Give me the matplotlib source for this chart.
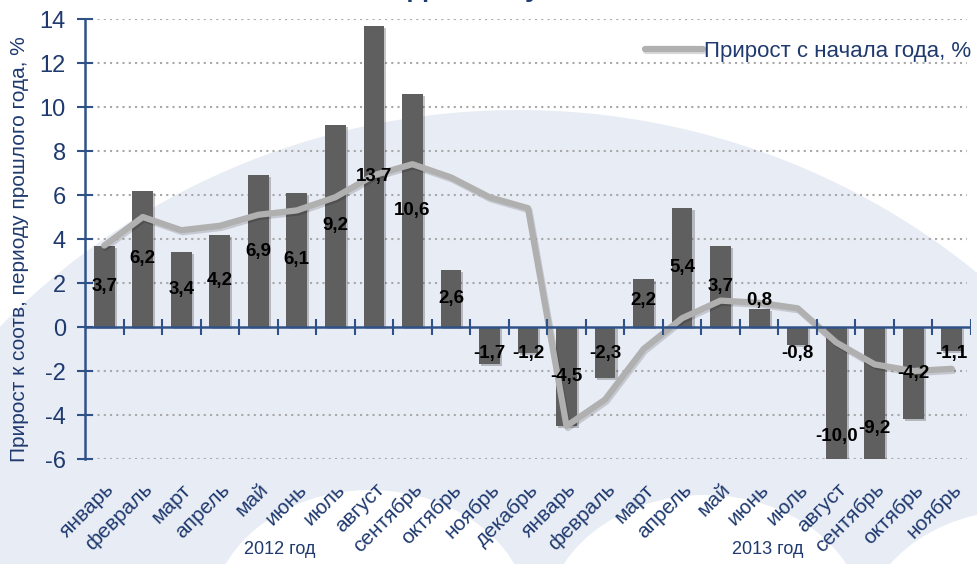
import matplotlib
matplotlib.use('Agg')
import matplotlib.pyplot as plt
from matplotlib import font_manager
from matplotlib.patches import Ellipse
from matplotlib.transforms import ScaledTranslation
import matplotlib.patheffects as pe
import numpy as np

months = ['январь', 'февраль', 'март', 'апрель', 'май', 'июнь', 'июль', 'август',
          'сентябрь', 'октябрь', 'ноябрь', 'декабрь',
          'январь', 'февраль', 'март', 'апрель', 'май', 'июнь', 'июль', 'август',
          'сентябрь', 'октябрь', 'ноябрь']
yoy = [3.7, 6.2, 3.4, 4.2, 6.9, 6.1, 9.2, 13.7, 10.6, 2.6, -1.7, -1.2,
       -4.5, -2.3, 2.2, 5.4, 3.7, 0.8, -0.8, -10.0, -9.2, -4.2, -1.1]
ytd = [3.7, 5.0, 4.4, 4.6, 5.1, 5.3, 5.9, 6.9, 7.4, 6.8, 5.9, 5.4,
       -4.5, -3.3, -1.0, 0.4, 1.2, 1.1, 0.85, -0.7, -1.7, -2.0, -1.9]
years = ['2012 год', '2013 год']
yticks = [-6, -4, -2, 0, 2, 4, 6, 8, 10, 12, 14]

names = {f.name for f in font_manager.fontManager.ttflist}
narrow = 'Liberation Sans Narrow' if 'Liberation Sans Narrow' in names else 'Liberation Sans'
plt.rcParams['font.family'] = [narrow, 'DejaVu Sans']

navy = '#1F3A6E'
axcol = '#2E5288'
light = '#E8ECF5'

fig = plt.figure(figsize=(9.78, 5.64), dpi=100)
fig.patch.set_facecolor('white')

# background: light dome with white bumps at the bottom
bg = fig.add_axes([0, 0, 1, 1], zorder=-5)
bg.set_xlim(0, 978)
bg.set_ylim(564, 0)
bg.axis('off')
bg.add_patch(Ellipse((518, 810), 1432, 1400, color=light, lw=0))
for cx, cy in [(370, 620), (705, 625), (1020, 640)]:
    bg.add_patch(Ellipse((cx, cy), 320, 260, color='white', lw=0))

ax = fig.add_axes([85 / 978, 105 / 564, 886 / 978, 440 / 564])
ax.set_facecolor('none')
x = np.arange(len(months))

shadow = [pe.SimplePatchShadow(offset=(1.5, -1.5), alpha=0.25), pe.Normal()]
bars = ax.bar(x, yoy, width=0.54, color='#5F5F5F', zorder=3)
for b in bars:
    b.set_path_effects(shadow)

ax.plot(x, ytd, color='#B0B0B0', lw=4.5, solid_capstyle='round',
        solid_joinstyle='round', zorder=4, label='Прирост с начала года, %',
        path_effects=[pe.SimpleLineShadow(offset=(1, -1.5), alpha=0.15), pe.Normal()])

for xi, v in zip(x, yoy):
    yl = v / 2
    if abs(yl) < 1.2:
        yl = 1.2 if v > 0 else -1.2
    ax.text(xi, yl, f'{v:.1f}'.replace('.', ','), ha='center', va='center',
            fontsize=13.5, fontweight='bold', color='black', zorder=6)

ax.set_xlim(-0.5, len(months) - 0.5)
ax.set_ylim(-6, 14)
ax.set_yticks(yticks)
ax.set_yticklabels([str(t) for t in yticks])
for t in yticks:
    if t != 0:
        ax.plot([-0.5, len(months) - 0.6], [t, t], color='#A8A8A8', lw=1.5,
                ls=(0, (1, 2)), zorder=1)

# zero line with category ticks
ax.axhline(0, color=axcol, lw=1.8, zorder=5)
ax.vlines(np.arange(0.5, len(months)), -0.36, 0.36, color=axcol, lw=1.5, zorder=5)

for s in ['top', 'right', 'bottom']:
    ax.spines[s].set_visible(False)
ax.spines['left'].set_color(axcol)
ax.spines['left'].set_linewidth(1.8)
ax.tick_params(axis='y', direction='inout', length=11.5, width=1.5, color=axcol,
               labelcolor=navy, labelsize=17, pad=8)

ax.set_xticks(x)
ax.set_xticklabels(months, rotation=45, ha='right', va='center',
                   rotation_mode='anchor', fontsize=15, color=navy)
ax.tick_params(axis='x', length=0, pad=20)
shift = ScaledTranslation(7 / 100, 0, fig.dpi_scale_trans)
for lab in ax.get_xticklabels():
    lab.set_transform(lab.get_transform() + shift)

# year captions under the month labels
ax.text(4.56, -0.205, years[0], transform=ax.get_xaxis_transform(),
        ha='center', va='center', fontsize=13, color=navy)
ax.text(17.23, -0.205, years[1], transform=ax.get_xaxis_transform(),
        ha='center', va='center', fontsize=13, color=navy)

ax.set_ylabel('Прирост к соотв, периоду прошлого года, %', fontsize=15,
              color=navy)
ax.yaxis.set_label_coords(-56 / 886, 0.477)

ax.legend(loc='upper right', bbox_to_anchor=(1.01, 0.97), frameon=False,
          fontsize=16, labelcolor=navy, handlelength=2.6, handletextpad=0.05,
          borderaxespad=0)

fig.text(408 / 978, 1 + 4 / 564, 'Добыча угля', ha='left', va='baseline',
         fontsize=20, fontweight='bold', color=navy)

fig.savefig('out.png', dpi=100)
